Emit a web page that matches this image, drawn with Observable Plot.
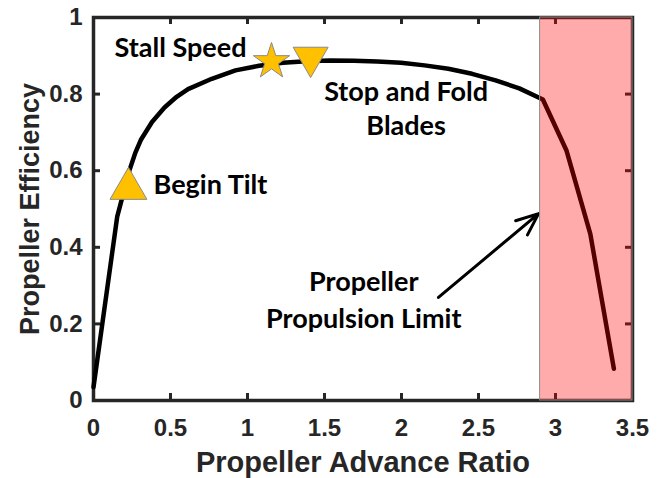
<!DOCTYPE html>
<html>
<head>
<meta charset="utf-8">
<script src="https://cdn.jsdelivr.net/npm/d3@7"></script>
<script src="https://cdn.jsdelivr.net/npm/@observablehq/plot@0.6"></script>
<style>
  html, body { margin: 0; padding: 0; background: #fff; }
  #chart svg { display: block; }
</style>
</head>
<body>
<div id="chart"></div>
<script>
// ---- data ----
const advanceRatio = [0, 0.154, 0.19, 0.23, 0.27, 0.307, 0.38, 0.461, 0.54, 0.614, 0.768, 0.922, 1.075, 1.229, 1.382, 1.536, 1.690,
  1.843, 1.997, 2.150, 2.304, 2.458, 2.611, 2.765, 2.918, 3.072, 3.226, 3.379];
const efficiency = [0.035, 0.48, 0.535, 0.597, 0.645, 0.68, 0.727, 0.765, 0.793, 0.813, 0.84, 0.862, 0.874, 0.882, 0.886, 0.888, 0.887,
  0.885, 0.882, 0.875, 0.866, 0.853, 0.836, 0.815, 0.786, 0.652, 0.435, 0.083];

const markerNames = ["Begin Tilt", "Stall Speed", "Stop and Fold Blades"];
const markerX = [0.227, 1.156, 1.41];
const markerY = [0.553, 0.885, 0.896];
const markerSymbols = ["triangle", "star", "triangle"];
const markerRotate = [0, 0, 180];
const markerRadius = [13.7, 11.4, 13];

const labelTexts = ["Stall Speed", "Stop and Fold", "Blades", "Begin Tilt", "Propeller", "Propulsion Limit"];
const labelX = [0.565, 2.03, 2.03, 0.39, 1.755, 1.755];
const labelY = [0.896, 0.783, 0.692, 0.540, 0.287, 0.19];
const labelAnchor = ["middle", "middle", "middle", "start", "middle", "middle"];

const limitStart = 2.9;
const limitEnd = 3.5;
const arrowFrom = [2.24, 0.269];
const arrowTo = [2.89, 0.488];

const xTicks = [0, 0.5, 1, 1.5, 2, 2.5, 3, 3.5];
const yTicks = [0, 0.2, 0.4, 0.6, 0.8, 1];
const xTitle = "Propeller Advance Ratio";
const yTitle = "Propeller Efficiency";

// ---- build tables ----
const curve = advanceRatio.map((x, i) => ({x, y: efficiency[i]}));
const markers = markerNames.map((name, i) => ({name, x: markerX[i], y: markerY[i], symbol: markerSymbols[i], rotate: markerRotate[i], r: markerRadius[i]}));
const labels = labelTexts.map((t, i) => ({t, x: labelX[i], y: labelY[i], anchor: labelAnchor[i]}));

const W = 657, H = 478;
const mL = 93, mR = 25, mT = 17, mB = 78;
const innerW = W - mL - mR, innerH = H - mT - mB;
const axisColor = "#262626";
const tickFont = "'Liberation Sans', Arial, sans-serif";
const noteFont = "Lato, 'Open Sans', sans-serif";
const noteStyle = {x: "x", y: "y", text: "t", lineAnchor: "bottom", fontFamily: noteFont, fontSize: 27, fontWeight: "bold", fill: "black"};

const chart = Plot.plot({
  width: W,
  height: H,
  marginLeft: mL,
  marginRight: mR,
  marginTop: mT,
  marginBottom: mB,
  style: {fontFamily: tickFont, background: "#fff"},
  x: {domain: [0, 3.5]},
  y: {domain: [0, 1]},
  marks: [
    Plot.frame({stroke: axisColor, strokeWidth: 3.5}),
    // inward ticks on all four sides
    Plot.tickX(xTicks, {x: d => d, stroke: axisColor, strokeWidth: 3, insetTop: innerH - 7}),
    Plot.tickX(xTicks, {x: d => d, stroke: axisColor, strokeWidth: 3, insetBottom: innerH - 7}),
    Plot.tickY(yTicks, {y: d => d, stroke: axisColor, strokeWidth: 3, insetRight: innerW - 7}),
    Plot.tickY(yTicks, {y: d => d, stroke: axisColor, strokeWidth: 3, insetLeft: innerW - 7}),
    Plot.axisX({ticks: xTicks, tickSize: 0, tickPadding: 18, tickFormat: d => String(d), fontSize: 24, fontWeight: "bold", color: axisColor, label: null}),
    Plot.axisY({ticks: yTicks, tickSize: 0, tickPadding: 11, tickFormat: d => String(d), fontSize: 24, fontWeight: "bold", color: axisColor, label: null}),
    Plot.text([xTitle], {frameAnchor: "bottom", text: d => d, dy: 71, textAnchor: "middle", lineAnchor: "bottom", fontSize: 29, fontWeight: "bold", fill: axisColor}),
    Plot.text([yTitle], {frameAnchor: "left", text: d => d, dx: -55, rotate: -90, textAnchor: "middle", lineAnchor: "bottom", fontSize: 27, fontWeight: "bold", fill: axisColor}),
    // efficiency curve
    Plot.line(curve, {x: "x", y: "y", stroke: "black", strokeWidth: 4.5, strokeLinejoin: "round"}),
    // markers
    ...markers.map(m => Plot.dot([m], {x: "x", y: "y", symbol: m.symbol, r: m.r, rotate: m.rotate, fill: "#FFC000", stroke: "#8a8a8a", strokeWidth: 1})),
    // annotations
    Plot.text(labels.filter(d => d.anchor === "middle"), {...noteStyle, textAnchor: "middle"}),
    Plot.text(labels.filter(d => d.anchor === "start"), {...noteStyle, textAnchor: "start"}),
    Plot.arrow([{x1: arrowFrom[0], y1: arrowFrom[1], x2: arrowTo[0], y2: arrowTo[1]}], {x1: "x1", y1: "y1", x2: "x2", y2: "y2", stroke: "black", strokeWidth: 3, headLength: 12, headAngle: 45}),
    // propulsion-limit shading overlays everything beneath
    Plot.rect([{x1: limitStart, x2: limitEnd, y1: 0, y2: 1}], {x1: "x1", x2: "x2", y1: "y1", y2: "y2", fill: "red", fillOpacity: 0.33, stroke: "#8a8a8a", strokeWidth: 1})
  ]
});
document.getElementById("chart").appendChild(chart);
</script>
</body>
</html>
